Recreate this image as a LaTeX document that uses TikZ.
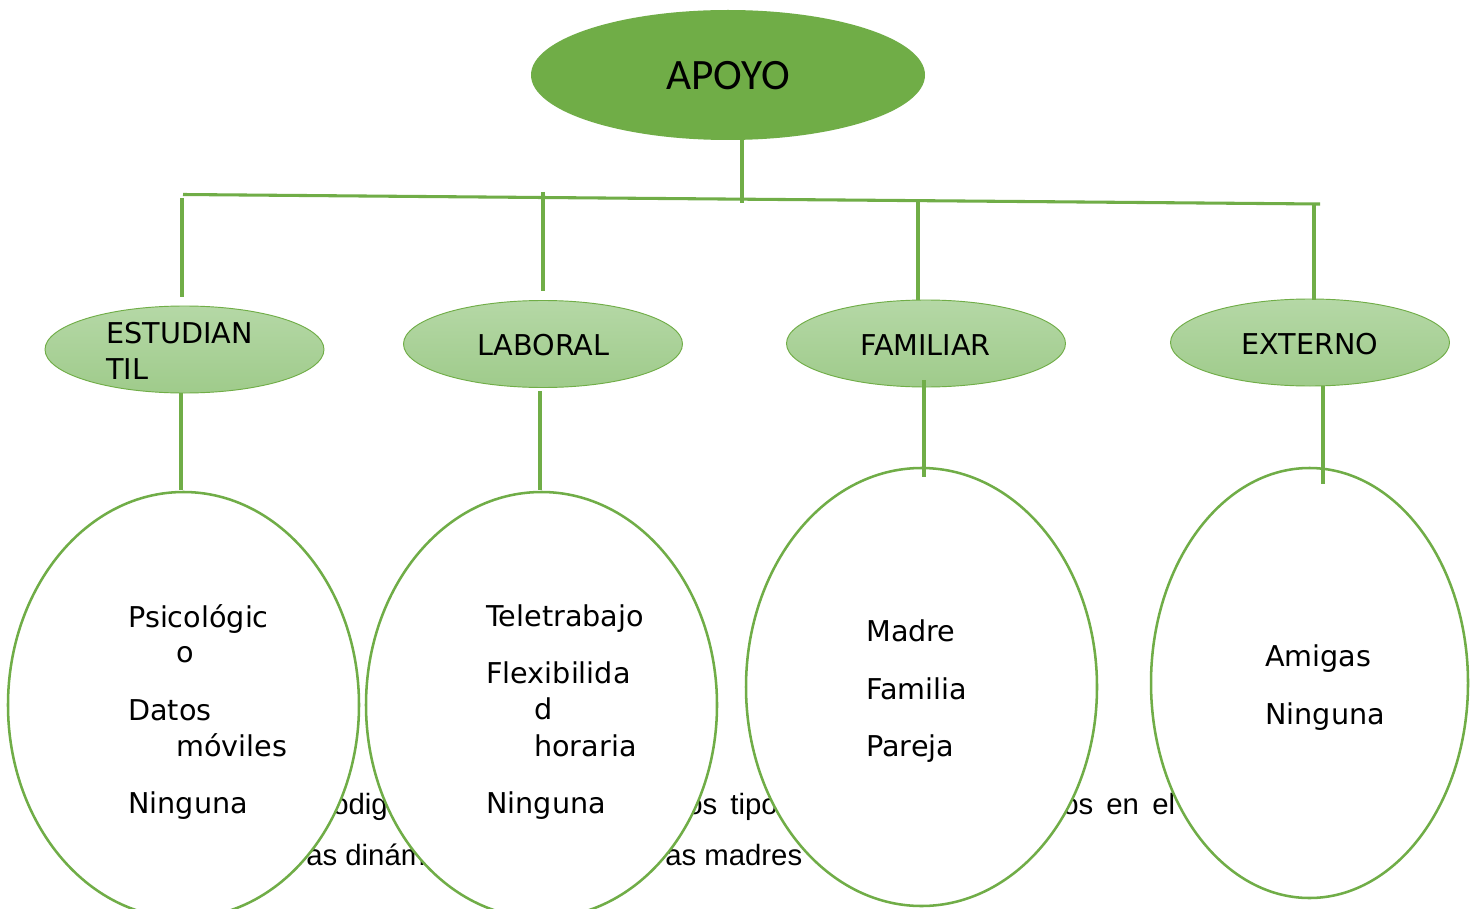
\documentclass[tikz,border=0pt]{standalone}
\usepackage{fontspec}
\setmainfont{DejaVu Sans}
\newfontfamily\apoyofont{Carlito}
\newfontfamily\bgfont{Liberation Sans}
\usetikzlibrary{shapes.geometric}
\definecolor{grn}{HTML}{70AD47}
\definecolor{lgtop}{HTML}{B5D8A6}
\definecolor{lgbot}{HTML}{9FCB8B}
\tikzset{
  conn/.style={draw=grn, line width=2.3pt},
  topnode/.style={ellipse, fill=grn, minimum width=295.5pt, minimum height=97.5pt, inner sep=0pt},
  midnode/.style={ellipse, draw=grn, line width=0.7pt, top color=lgtop, bottom color=lgbot, minimum width=209.25pt, minimum height=65.25pt, inner sep=0pt},
  bignode/.style={ellipse, draw=grn, line width=1.9pt, fill=white, inner sep=0pt},
  lbl/.style={anchor=base west, inner sep=0pt, font=\fontsize{21.5}{25}\selectfont},
  bgtxt/.style={anchor=base west, inner sep=0pt, font=\bgfont\fontsize{22}{25}\selectfont}
}
\begin{document}
\begin{tikzpicture}[x=0.75pt,y=-0.75pt]
\useasboundingbox[fill=white] (0,0) rectangle (1476,909);

% background text fragments (partly hidden by the ellipses)
\node[bgtxt] (b1) at (332,814) {odig};
\node[bgtxt] (b2) at (686,814) {os\hspace{0.45em}tipo};
\node[bgtxt] (b3) at (1062,814) {os\hspace{0.45em}en\hspace{0.45em}el\hspace{0.4em}p};
\node[bgtxt] (b4) at (306,865) {as dinám};
\node[bgtxt] (b5) at (665,865) {as madres};

% top node
\node[topnode] (apoyo) at (728,75) {};
\node[anchor=base, inner sep=0pt, font=\apoyofont\fontsize{32.5}{36}\selectfont] (apoyot) at (728,90) {APOYO};

% second level
\node[midnode] (est) at (184.5,349.5) {};
\node[midnode] (lab) at (543,344) {};
\node[midnode] (fam) at (926,343.5) {};
\node[midnode] (ext) at (1310,342.5) {};

\node[lbl] (estt1) at (106,343) {ESTUDIAN};
\node[lbl] (estt2) at (106,379) {TIL};
\node[lbl] (labt) at (477,355) {LABORAL};
\node[lbl] (famt) at (860,355) {FAMILIAR};
\node[lbl] (extt) at (1241,354) {EXTERNO};

% third level
\node[bignode, minimum width=263.25pt, minimum height=319.5pt] (e1) at (183.5,705) {};
\node[bignode, minimum width=263.25pt, minimum height=319.5pt] (e2) at (541.5,705) {};
\node[bignode, minimum width=263.25pt, minimum height=328.5pt] (e3) at (921.5,687) {};
\node[bignode, minimum width=237.75pt, minimum height=322.5pt] (e4) at (1309.5,683) {};

% connector end points
\coordinate (a1) at (742,140);
\coordinate (a2) at (742,203);
\coordinate (h1) at (183,194.5);
\coordinate (h2) at (1320,204);
\coordinate (v1a) at (182,198);  \coordinate (v1b) at (182,297);
\coordinate (v2a) at (543,192);  \coordinate (v2b) at (543,291);
\coordinate (v3a) at (918,200);  \coordinate (v3b) at (918,300);
\coordinate (v4a) at (1314,203); \coordinate (v4b) at (1314,300);
\coordinate (w1a) at (181,393);  \coordinate (w1b) at (181,490);
\coordinate (w2a) at (540,391);  \coordinate (w2b) at (540,490);
\coordinate (w3a) at (924,380);  \coordinate (w3b) at (924,477);
\coordinate (w4a) at (1323,386); \coordinate (w4b) at (1323,484);

\draw[conn] (a1) -- (a2);
\draw[conn] (h1) -- (h2);
\draw[conn] (v1a) -- (v1b);
\draw[conn] (v2a) -- (v2b);
\draw[conn] (v3a) -- (v3b);
\draw[conn] (v4a) -- (v4b);
\draw[conn] (w1a) -- (w1b);
\draw[conn] (w2a) -- (w2b);
\draw[conn] (w3a) -- (w3b);
\draw[conn] (w4a) -- (w4b);

% third-level texts
\node[lbl] (p1) at (128,627) {Psicológic};
\node[lbl] (p2) at (176,662) {o};
\node[lbl] (p3) at (128,720) {Datos};
\node[lbl] (p4) at (176,756) {móviles};
\node[lbl] (p5) at (128,813) {Ninguna};

\node[lbl] (l1) at (486,626) {Teletrabajo};
\node[lbl] (l2) at (486,683) {Flexibilida};
\node[lbl] (l3) at (534,719) {d};
\node[lbl] (l4) at (534,756) {horaria};
\node[lbl] (l5) at (486,813) {Ninguna};

\node[lbl] (f1) at (866,641) {Madre};
\node[lbl] (f2) at (866,699) {Familia};
\node[lbl] (f3) at (866,756) {Pareja};

\node[lbl] (x1) at (1265,666) {Amigas};
\node[lbl] (x2) at (1265,724) {Ninguna};
\end{tikzpicture}
\end{document}
